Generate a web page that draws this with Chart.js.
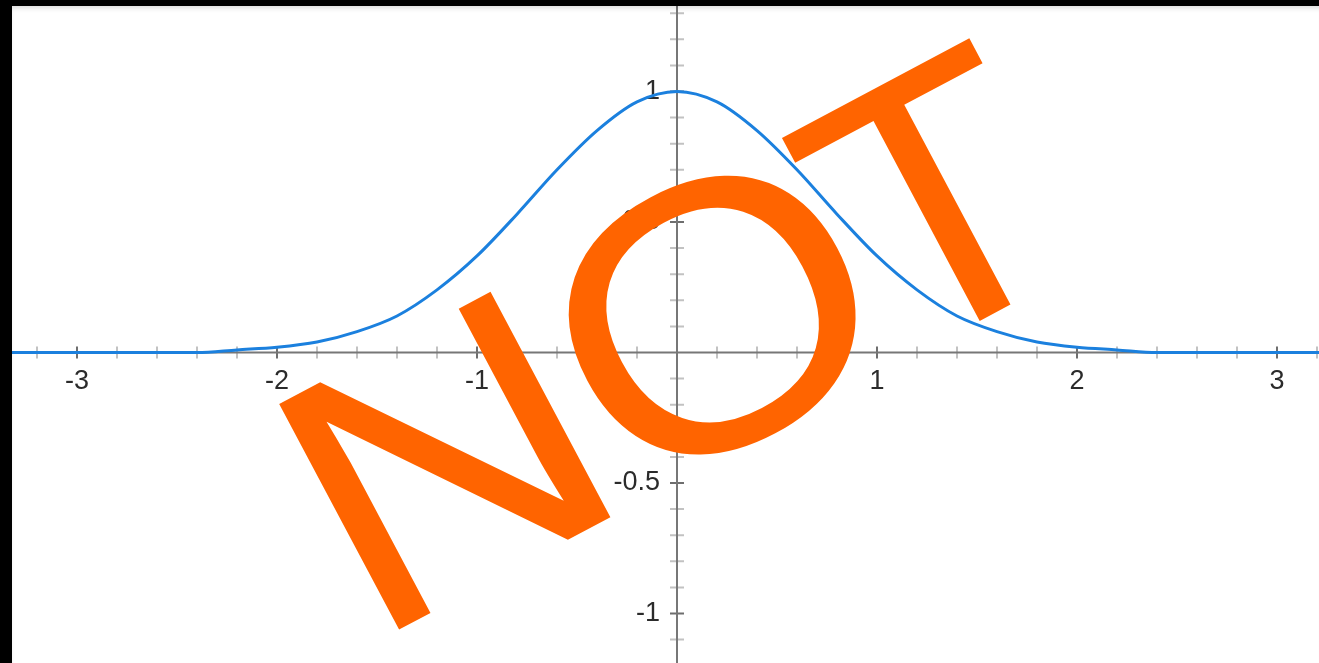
<!DOCTYPE html>
<html>
<head>
<meta charset="utf-8">
<script src="https://cdn.jsdelivr.net/npm/chart.js@4.4.1/dist/chart.umd.min.js"></script>
<style>
  html, body { margin: 0; padding: 0; background: #000; overflow: hidden; }
  #frame { position: absolute; left: 12px; top: 6px; width: 1307px; height: 657px; background: #fff; }
  #frame::after { content: ''; position: absolute; left: 0; top: 0; right: 0; bottom: 0; pointer-events: none;
    box-shadow: inset 1px 5px 5px -3px rgba(0, 0, 0, 0.15); }
  canvas { display: block; }
</style>
</head>
<body>
<div id="frame"><canvas id="graph" width="1307" height="657"></canvas></div>
<script>
// curve samples (x, y)
const xValues = [-3.4, -3.2, -3.0, -2.8, -2.6, -2.4, -2.2, -2.0, -1.8, -1.6, -1.4, -1.2, -1.0, -0.8, -0.6, -0.4, -0.2,
  0, 0.2, 0.4, 0.6, 0.8, 1.0, 1.2, 1.4, 1.6, 1.8, 2.0, 2.2, 2.4, 2.6, 2.8, 3.0, 3.2, 3.4];
const yValues = [0, 0, 0, 0, 0, 0, 0.01, 0.02, 0.04, 0.08, 0.14, 0.24, 0.37, 0.53, 0.70, 0.85, 0.96,
  1.00, 0.96, 0.85, 0.70, 0.53, 0.37, 0.24, 0.14, 0.08, 0.04, 0.02, 0.01, 0, 0, 0, 0, 0, 0];

// axis tick labels
const xTicks = [-3, -2, -1, 1, 2, 3];
const xTickLabels = ['-3', '-2', '-1', '1', '2', '3'];
const yTicks = [1, 0.5, -0.5, -1];
const yTickLabels = ['1', '0.5', '-0.5', '-1'];

const stampText = 'NOT';

// axes crossing at the origin, ticks going through the line
const crossAxes = {
  id: 'crossAxes',
  beforeDatasetsDraw(chart) {
    const { ctx, chartArea, scales: { x, y } } = chart;
    const x0 = x.getPixelForValue(0);
    const y0 = y.getPixelForValue(0);
    ctx.save();
    ctx.lineWidth = 2;

    // minor ticks
    ctx.strokeStyle = '#c2c2c2';
    ctx.beginPath();
    for (let k = -16; k <= 16; k++) {
      if (k % 5 === 0) continue;
      const px = x.getPixelForValue(k * 0.2);
      ctx.moveTo(px, y0 - 6); ctx.lineTo(px, y0 + 6);
    }
    for (let k = -12; k <= 13; k++) {
      if (k % 5 === 0) continue;
      const py = y.getPixelForValue(k / 10);
      ctx.moveTo(x0 - 7, py); ctx.lineTo(x0 + 7, py);
    }
    ctx.stroke();

    // major ticks
    ctx.strokeStyle = '#6e6e6e';
    ctx.beginPath();
    xTicks.forEach(v => {
      const px = x.getPixelForValue(v);
      ctx.moveTo(px, y0 - 6); ctx.lineTo(px, y0 + 6);
    });
    yTicks.forEach(v => {
      const py = y.getPixelForValue(v);
      ctx.moveTo(x0 - 7, py); ctx.lineTo(x0 + 7, py);
    });
    ctx.stroke();

    // axis lines
    ctx.strokeStyle = '#777';
    ctx.beginPath();
    ctx.moveTo(chartArea.left, y0); ctx.lineTo(chartArea.right, y0);
    ctx.moveTo(x0, chartArea.top); ctx.lineTo(x0, chartArea.bottom);
    ctx.stroke();

    // labels
    ctx.fillStyle = '#2b2b2b';
    ctx.font = '27px "Liberation Sans", Arial, sans-serif';
    ctx.textBaseline = 'middle';
    ctx.textAlign = 'center';
    xTicks.forEach((v, i) => ctx.fillText(xTickLabels[i], x.getPixelForValue(v), y0 + 29));
    ctx.textAlign = 'right';
    yTicks.forEach((v, i) => ctx.fillText(yTickLabels[i], x0 - 17, y.getPixelForValue(v)));
    ctx.restore();
  }
};

// big slanted word over the graph, each letter fitted to its box
const stamp = {
  id: 'stamp',
  afterDraw(chart) {
    const ctx = chart.ctx;
    // left, right, top, bottom of each letter, measured along the slanted baseline
    const boxes = [[29, 270, -261, 0], [313.5, 598.5, -265.5, 5.5], [597, 814, -260, 0]];
    ctx.save();
    ctx.translate(360, 638);
    ctx.rotate(-28 * Math.PI / 180);
    ctx.font = '364px "Liberation Sans", Arial, sans-serif';
    ctx.fillStyle = '#ff6400';
    stampText.split('').forEach((ch, i) => {
      const m = ctx.measureText(ch);
      const [l, r, t, b] = boxes[i];
      const inkL = -m.actualBoundingBoxLeft, inkR = m.actualBoundingBoxRight;
      const inkT = -m.actualBoundingBoxAscent, inkB = m.actualBoundingBoxDescent;
      const sx = (r - l) / (inkR - inkL);
      const sy = (b - t) / (inkB - inkT);
      ctx.save();
      ctx.translate(l - inkL * sx, t - inkT * sy);
      ctx.scale(sx, sy);
      ctx.fillText(ch, 0, 0);
      ctx.restore();
    });
    ctx.restore();
  }
};

const points = xValues.map((v, i) => ({ x: v, y: yValues[i] }));

new Chart(document.getElementById('graph'), {
  type: 'line',
  data: {
    datasets: [{
      data: points,
      borderColor: '#1b80de',
      borderWidth: 3,
      pointRadius: 0,
      fill: false,
      cubicInterpolationMode: 'monotone'
    }]
  },
  options: {
    responsive: false,
    animation: false,
    events: [],
    layout: { padding: 0 },
    plugins: { legend: { display: false }, tooltip: { enabled: false } },
    scales: {
      x: { type: 'linear', min: -3.325, max: 3.21, display: false },
      y: { type: 'linear', min: -1.1897, max: 1.3276, display: false }
    }
  },
  plugins: [crossAxes, stamp]
});
</script>
</body>
</html>
